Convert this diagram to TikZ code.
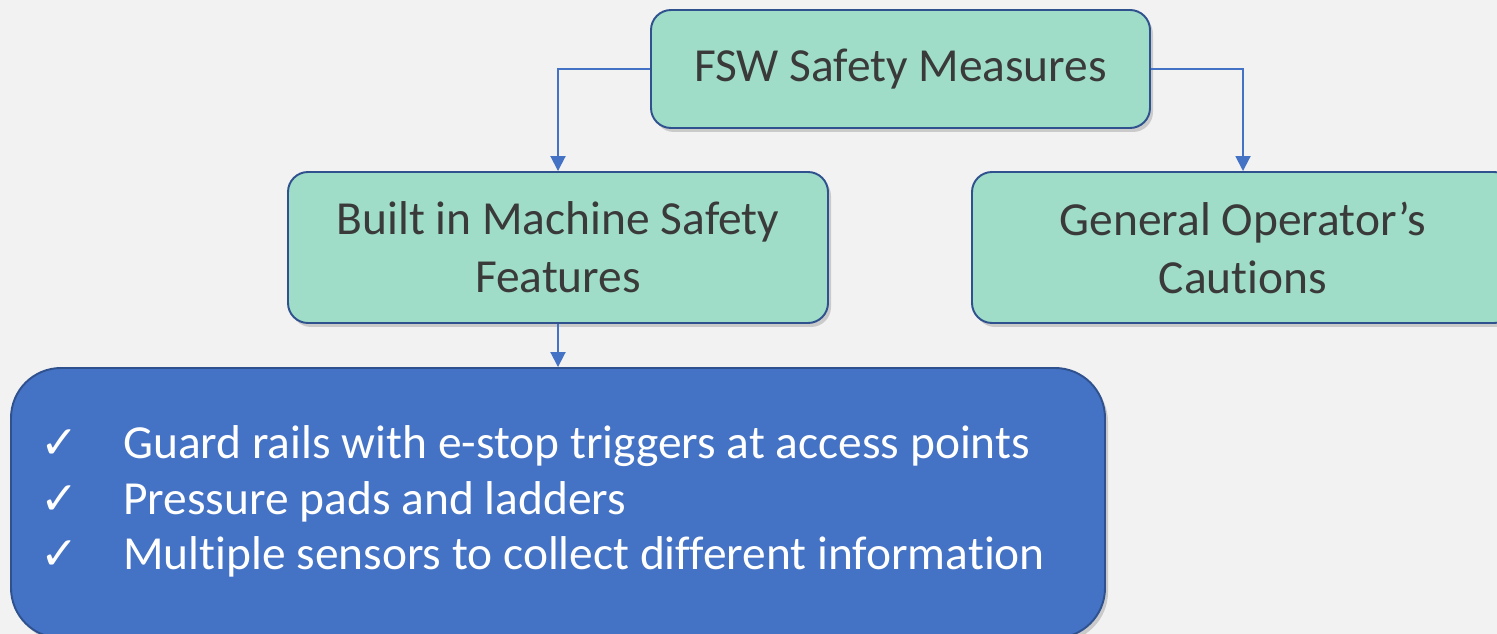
\documentclass[tikz,border=0pt]{standalone}
\usepackage{fontspec}
\setmainfont{Carlito}[Ligatures=NoCommon]
\newfontfamily\symfont{DejaVu Sans}
\usetikzlibrary{arrows.meta,shadows}
\definecolor{bgcol}{HTML}{F2F2F2}
\definecolor{mint}{HTML}{9FDDC8}
\definecolor{rim}{HTML}{2F528F}
\definecolor{linkcol}{HTML}{4472C4}
\definecolor{txtcol}{HTML}{3A3A3A}
\begin{document}
\begin{tikzpicture}[font=\fontsize{27}{33}\selectfont,
                    box/.style={rectangle, rounded corners=0.4cm, draw=rim, line width=1.1pt, fill=mint,
                                text=txtcol, align=center, inner sep=0pt,
                                drop shadow={shadow xshift=0.06cm, shadow yshift=-0.08cm, opacity=0.35}},
                    listbox/.style={rectangle, rounded corners=1cm, draw=rim, line width=1.1pt, fill=linkcol,
                                text=white, inner sep=0pt,
                                drop shadow={shadow xshift=0.06cm, shadow yshift=-0.08cm, opacity=0.35}},
                    link/.style={draw=linkcol, line width=1.1pt, -{Triangle[width=0.3cm, length=0.3cm]}}]

                    % Background and page frame
                    \fill[bgcol] (0,0) rectangle (29.94,-12.68);
                    \useasboundingbox (0,0) rectangle (29.94,-12.68);

                    % Boxes
                    \node[box, minimum width=9.98cm, minimum height=2.36cm] (top) at (18.01,-1.38) {FSW Safety Measures}; % Root
                    \node[box, minimum width=10.8cm, minimum height=3.02cm] (builtin) at (11.16,-4.95) {Built in Machine Safety\\Features}; % Left child
                    \node[box, minimum width=10.84cm, minimum height=3.02cm] (general) at (24.86,-4.95) {General Operator's\\Cautions}; % Right child

                    % List of features
                    \node[listbox, minimum width=21.88cm, minimum height=5.4cm] (features) at (11.16,-10.06) {%
                      \fontsize{27}{31.7}\selectfont
                      \begin{tabular}{@{}l@{\hspace{0.88cm}}l@{}}
                        {\symfont\fontsize{26}{31.7}\selectfont ✓} & Guard rails with e-stop triggers at access points\\
                        {\symfont\fontsize{26}{31.7}\selectfont ✓} & Pressure pads and ladders\\
                        {\symfont\fontsize{26}{31.7}\selectfont ✓} & Multiple sensors to collect different information
                      \end{tabular}\kern0.6cm};

                    % Connectors
                    \draw[link] (top.west) -| (builtin.north);
                    \draw[link] (top.east) -| (general.north);
                    \draw[link] (builtin.south) -- (features.north);
                \end{tikzpicture}
\end{document}
